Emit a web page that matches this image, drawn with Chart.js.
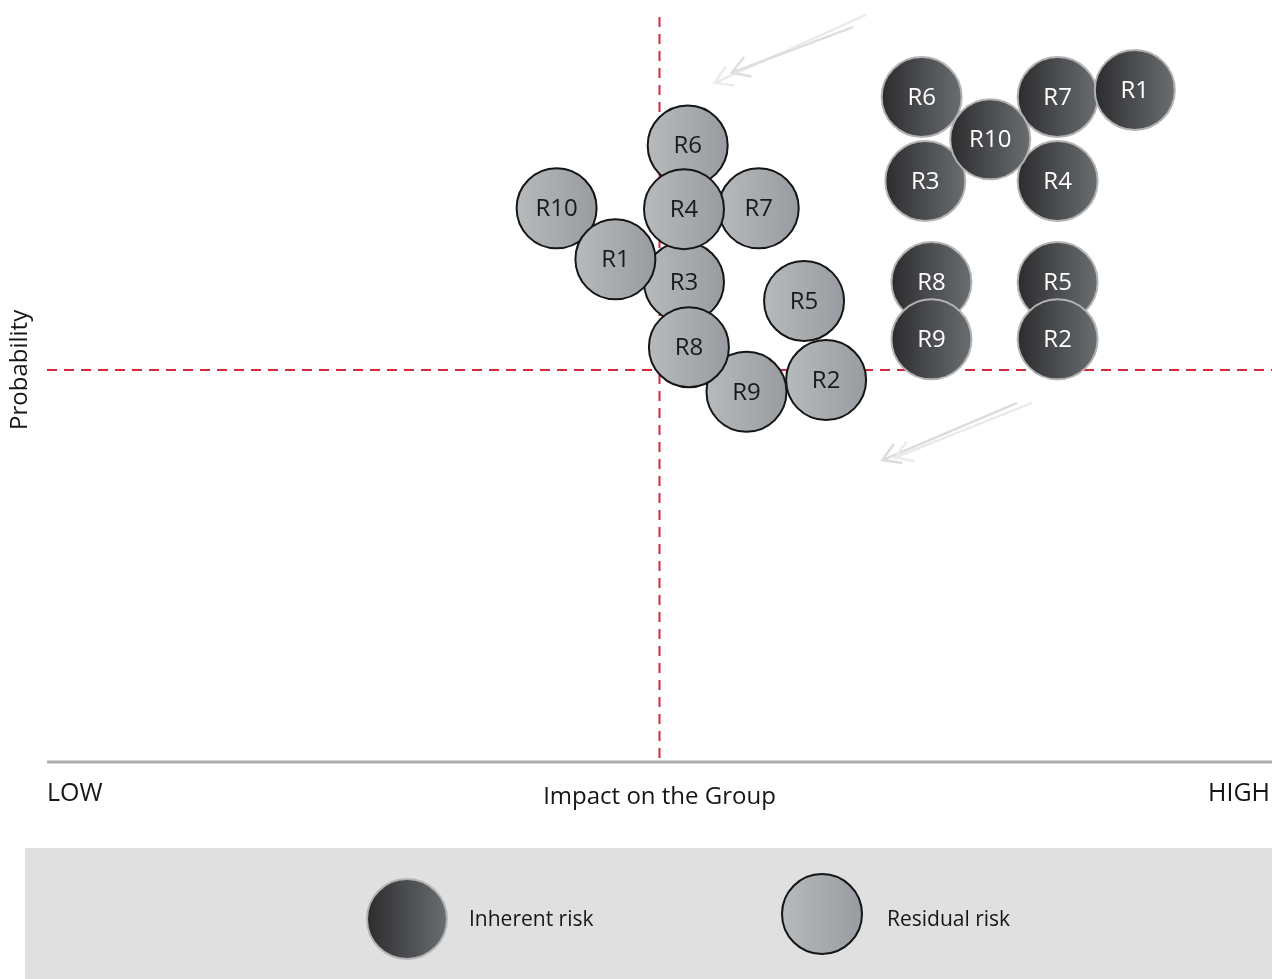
<!DOCTYPE html>
<html>
<head>
<meta charset="utf-8">
<style>
  body { margin: 0; background: #fff; }
  #wrap { position: relative; width: 1272px; height: 979px; }
</style>
</head>
<body>
<div id="wrap"><canvas id="riskChart"></canvas></div>

<script src="https://cdn.jsdelivr.net/npm/chart.js"></script>
<script>
// risk positions: impact (x) and probability (y), listed in drawing order
const inherentLabels = ['R6', 'R7', 'R3', 'R4', 'R1', 'R8', 'R5', 'R9', 'R2', 'R10'];
const inherentImpact = [71.4, 82.5, 71.7, 82.5, 88.8, 72.2, 82.5, 72.2, 82.5, 77.0];
const inherentProb   = [84.8, 84.8, 74.1, 74.1, 85.7, 61.2, 61.2, 53.9, 53.9, 79.4];

const residualLabels = ['R10', 'R6', 'R7', 'R3', 'R4', 'R1', 'R9', 'R8', 'R5', 'R2'];
const residualImpact = [41.6, 52.3, 58.1, 52.0, 52.0, 46.4, 57.1, 52.4, 61.8, 63.6];
const residualProb   = [70.6, 78.6, 70.6, 61.2, 70.5, 64.1, 47.2, 52.9, 58.8, 48.7];

// quadrant split
const impactSplit = 50;
const probSplit = 50;

// movement arrows [x1, y1, x2, y2], head at (x2, y2)
const arrowsTop = [[66.9, 95.3, 54.5, 86.6], [65.8, 93.7, 55.9, 87.9]];
const arrowsBottom = [[79.2, 45.8, 68.2, 38.5], [80.4, 45.8, 69.2, 38.8]];

const bubbleR = 40;
const inherentStops = ['#2c2c2e', '#6a6e71'];
const residualStops = ['#b7babc', '#989ca0'];
const FONT = '"Open Sans", sans-serif';

function toPoints(xs, ys) {
  return xs.map((x, i) => ({ x: x, y: ys[i], r: bubbleR }));
}

function gradientFor(c, cx, r, stops) {
  const g = c.createLinearGradient(cx - r, 0, cx + r, 0);
  g.addColorStop(0, stops[0]);
  g.addColorStop(1, stops[1]);
  return g;
}

function bubbleFill(stops) {
  return (ctx) => {
    const chart = ctx.chart;
    if (!chart.chartArea || ctx.type !== 'data') return stops[1];
    const cx = chart.scales.x.getPixelForValue(ctx.raw.x);
    return gradientFor(chart.ctx, cx, ctx.raw.r, stops);
  };
}

function drawArrow(c, x1, y1, x2, y2, color) {
  const ang = Math.atan2(y2 - y1, x2 - x1);
  const head = 20;
  c.strokeStyle = color;
  c.lineWidth = 2.5;
  c.beginPath();
  c.moveTo(x1, y1);
  c.lineTo(x2, y2);
  c.moveTo(x2 - head * Math.cos(ang - 0.55), y2 - head * Math.sin(ang - 0.55));
  c.lineTo(x2, y2);
  c.lineTo(x2 - head * Math.cos(ang + 0.55), y2 - head * Math.sin(ang + 0.55));
  c.stroke();
}

const backdrop = {
  id: 'backdrop',
  beforeDatasetsDraw(chart) {
    const { ctx, chartArea, scales } = chart;
    const { x, y } = scales;
    ctx.save();

    // red quadrant lines
    ctx.strokeStyle = '#d42a3c';
    ctx.lineWidth = 2;
    ctx.setLineDash([10, 7]);
    const vx = x.getPixelForValue(impactSplit);
    const hy = y.getPixelForValue(probSplit);
    ctx.beginPath();
    ctx.moveTo(vx, chartArea.top);
    ctx.lineTo(vx, chartArea.bottom);
    ctx.moveTo(chartArea.left, hy);
    ctx.lineTo(chartArea.right, hy);
    ctx.stroke();
    ctx.setLineDash([]);

    // base axis
    ctx.strokeStyle = '#acacac';
    ctx.lineWidth = 3;
    ctx.beginPath();
    ctx.moveTo(chartArea.left, chartArea.bottom);
    ctx.lineTo(chartArea.right, chartArea.bottom);
    ctx.stroke();

    // arrows
    const cols = [['#ebebeb', '#dedede'], ['#dcdcdc', '#ebebeb']];
    [arrowsTop, arrowsBottom].forEach((set, k) => {
      set.forEach((a, i) => {
        drawArrow(ctx, x.getPixelForValue(a[0]), y.getPixelForValue(a[1]),
          x.getPixelForValue(a[2]), y.getPixelForValue(a[3]), cols[k][i]);
      });
    });

    // axis texts
    ctx.fillStyle = '#161616';
    ctx.textBaseline = 'middle';
    ctx.font = '25px ' + FONT;
    ctx.textAlign = 'left';
    ctx.fillText('LOW', chartArea.left, 794);
    ctx.textAlign = 'right';
    ctx.fillText('HIGH', chartArea.right - 2, 794);
    ctx.font = '24px ' + FONT;
    ctx.textAlign = 'center';
    ctx.fillText('Impact on the Group', vx, 797);

    ctx.save();
    ctx.translate(20, hy);
    ctx.rotate(-Math.PI / 2);
    ctx.font = '24px ' + FONT;
    ctx.textAlign = 'center';
    ctx.fillText('Probability', 0, 0);
    ctx.restore();

    ctx.restore();
  },
  afterDatasetsDraw(chart) {
    const { ctx } = chart;
    ctx.save();
    ctx.font = '24px ' + FONT;
    ctx.textAlign = 'center';
    ctx.textBaseline = 'middle';
    chart.data.datasets.forEach((ds, di) => {
      const meta = chart.getDatasetMeta(di);
      ctx.fillStyle = ds.labelColor;
      meta.data.forEach((pt, i) => {
        ctx.fillText(ds.names[i], pt.x, pt.y + 1);
      });
    });
    ctx.restore();
  },
  afterDraw(chart) {
    const { ctx } = chart;
    ctx.save();
    // legend band
    ctx.fillStyle = '#e0e0e0';
    ctx.fillRect(25, 848, 1247, 131);

    const items = [
      { cx: 407, cy: 919, text: 'Inherent risk', tx: 469, ds: chart.data.datasets[0] },
      { cx: 822, cy: 914, text: 'Residual risk', tx: 887, ds: chart.data.datasets[1] }
    ];
    items.forEach((it) => {
      ctx.beginPath();
      ctx.arc(it.cx, it.cy, bubbleR, 0, Math.PI * 2);
      ctx.fillStyle = gradientFor(ctx, it.cx, bubbleR, it.ds.stops);
      ctx.fill();
      ctx.lineWidth = 2;
      ctx.strokeStyle = it.ds.borderColor;
      ctx.stroke();
      ctx.fillStyle = '#161616';
      ctx.font = '21px ' + FONT;
      ctx.textAlign = 'left';
      ctx.textBaseline = 'middle';
      ctx.fillText(it.text, it.tx, 920);
    });
    ctx.restore();
  }
};

new Chart(document.getElementById('riskChart'), {
  type: 'bubble',
  data: {
    datasets: [
      {
        label: 'Inherent risk',
        names: inherentLabels,
        stops: inherentStops,
        labelColor: '#ffffff',
        data: toPoints(inherentImpact, inherentProb),
        backgroundColor: bubbleFill(inherentStops),
        borderColor: '#b3b3b3',
        borderWidth: 2,
        clip: false
      },
      {
        label: 'Residual risk',
        names: residualLabels,
        stops: residualStops,
        labelColor: '#1a1a1a',
        data: toPoints(residualImpact, residualProb),
        backgroundColor: bubbleFill(residualStops),
        borderColor: '#151515',
        borderWidth: 2,
        clip: false
      }
    ]
  },
  options: {
    responsive: true,
    maintainAspectRatio: false,
    animation: false,
    events: [],
    layout: { autoPadding: false, padding: { left: 47, right: 0, top: 17, bottom: 217 } },
    scales: {
      x: { type: 'linear', min: 0, max: 100, display: false },
      y: { type: 'linear', min: 0, max: 95, display: false }
    },
    plugins: {
      legend: { display: false },
      tooltip: { enabled: false }
    }
  },
  plugins: [backdrop]
});
</script>
</body>
</html>
